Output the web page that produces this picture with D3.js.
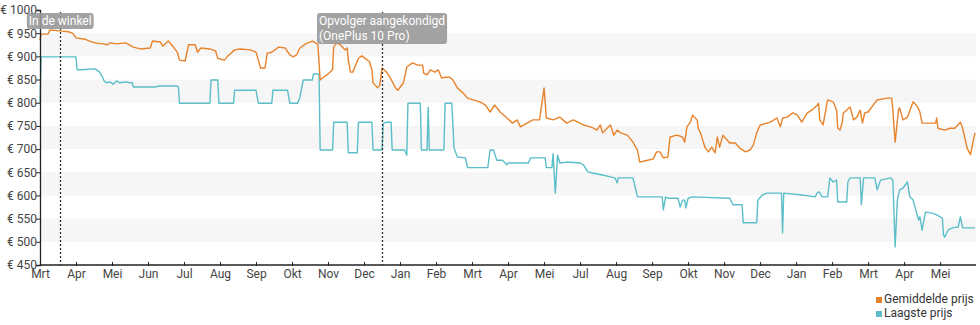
<!DOCTYPE html>
<html><head><meta charset="utf-8">
<script src="https://cdn.jsdelivr.net/npm/d3@7"></script>
<style>
html,body{margin:0;padding:0;background:#fff;}
svg{display:block;font-family:Roboto,"Noto Sans",sans-serif;}
</style></head>
<body><svg id="chart" width="980" height="325"></svg>
<script>
// Days counted from the first day of the chart (early March 2021)
const tickDays = [0,32,64,96,128,160,192,224,256,288,320,352,384,416,448,480,512,544,576,608,640,672,704,736,768,800];
const tickLabels = ["Mrt","Apr","Mei","Jun","Jul","Aug","Sep","Okt","Nov","Dec","Jan","Feb","Mrt","Apr","Mei","Jul","Aug","Sep","Okt","Nov","Dec","Jan","Feb","Mrt","Apr","Mei"];
const priceTicks = [450,500,550,600,650,700,750,800,850,900,950,1000];
const bandStarts = [500,600,700,800,900];

const avgPrice = [[0,935],[1,948],[7,948],[9,957],[18,955],[25,953],[29,950],[32,940],[40,937],[44,933],[49,929],[56,927],[60,925],[62,929],[68,927],[76,929],[83,920],[89,916],[98,918],[100,933],[107,931],[109,922],[114,933],[117,925],[122,909],[124,892],[129,890],[132,925],[138,925],[140,909],[143,918],[151,916],[156,912],[158,896],[164,892],[167,901],[173,914],[178,916],[187,914],[192,909],[194,892],[196,875],[200,875],[202,907],[206,909],[212,920],[218,918],[222,903],[225,899],[228,903],[231,918],[236,927],[242,933],[245,929],[247,925],[249,849],[252,855],[256,862],[260,871],[261,921],[264,929],[267,925],[271,914],[273,918],[274,892],[276,866],[278,866],[283,896],[286,901],[291,892],[293,888],[295,871],[296,843],[300,832],[302,838],[304,875],[308,866],[311,855],[316,832],[318,827],[323,843],[326,877],[331,886],[336,881],[340,881],[341,864],[344,860],[347,871],[351,866],[354,871],[357,853],[360,855],[364,855],[367,849],[371,832],[376,821],[380,810],[385,806],[391,802],[396,795],[400,780],[404,795],[409,780],[415,767],[420,756],[424,763],[427,748],[438,763],[444,763],[448,832],[450,767],[456,763],[462,769],[468,756],[474,763],[483,752],[489,748],[492,745],[495,741],[498,752],[500,735],[504,745],[507,752],[510,730],[513,741],[516,735],[522,730],[527,715],[531,698],[533,672],[540,676],[545,679],[548,694],[551,694],[554,681],[558,683],[560,726],[566,730],[571,726],[573,715],[575,748],[578,758],[580,773],[584,763],[585,745],[587,735],[591,704],[594,694],[597,704],[600,692],[602,726],[604,704],[607,730],[613,713],[618,713],[622,702],[627,694],[631,698],[634,709],[637,735],[640,752],[649,758],[655,767],[658,748],[660,767],[664,769],[669,778],[673,774],[677,758],[682,778],[686,784],[691,795],[692,799],[693,763],[696,752],[700,806],[705,802],[708,784],[709,745],[711,741],[713,758],[714,778],[720,791],[723,763],[726,769],[729,784],[731,756],[733,778],[736,780],[744,806],[753,810],[757,810],[758,784],[760,715],[763,784],[764,789],[767,763],[771,769],[776,802],[780,791],[782,780],[784,756],[796,756],[797,767],[798,745],[804,741],[809,745],[813,745],[818,758],[820,745],[824,702],[827,688],[829,713],[831,735]];

const lowPrice = [[0,800],[1,899],[32,899],[33,871],[36,871],[49,873],[53,866],[55,858],[57,847],[59,843],[62,845],[65,840],[68,847],[71,843],[76,845],[80,843],[82,843],[83,834],[102,834],[106,836],[122,836],[123,834],[124,799],[151,799],[152,849],[158,849],[159,799],[172,799],[173,827],[192,827],[194,799],[206,799],[207,827],[220,827],[222,799],[229,799],[231,812],[234,849],[242,849],[243,862],[248,862],[249,698],[260,698],[261,758],[273,758],[274,692],[282,692],[283,758],[295,758],[296,698],[304,698],[305,755],[308,758],[312,758],[313,698],[324,698],[326,687],[327,799],[338,799],[339,698],[344,698],[345,790],[346,698],[359,698],[360,799],[366,799],[368,702],[371,683],[378,681],[380,660],[398,660],[400,698],[403,698],[406,676],[411,676],[415,666],[416,670],[434,670],[436,681],[449,681],[450,660],[455,660],[456,690],[458,605],[460,687],[462,670],[468,672],[480,670],[483,666],[487,651],[492,648],[500,644],[507,640],[511,638],[513,627],[514,638],[527,638],[531,597],[553,597],[554,569],[556,597],[558,594],[567,594],[569,575],[571,590],[573,590],[574,573],[576,594],[580,597],[613,594],[616,580],[624,580],[625,541],[637,541],[638,590],[642,601],[646,605],[659,605],[660,519],[661,605],[677,601],[689,597],[691,607],[693,607],[695,597],[700,597],[702,638],[705,629],[708,633],[709,586],[717,586],[718,629],[720,638],[729,638],[730,580],[732,638],[742,638],[744,612],[747,633],[756,638],[758,633],[760,489],[762,590],[764,612],[767,616],[771,629],[773,597],[776,590],[780,554],[781,547],[782,554],[784,525],[787,564],[793,562],[797,558],[800,554],[802,551],[803,515],[804,510],[807,525],[811,530],[816,532],[818,554],[820,530],[831,530]];

const annotations = [{day:18, lines:["In de winkel"]},{day:304, lines:["Opvolger aangekondigd","(OnePlus 10 Pro)"]}];
const seriesNames = ["Gemiddelde prijs","Laagste prijs"];
const seriesColors = ["#e8832c","#5bbec8"];

const svg = d3.select("#chart");
const x = d3.scaleLinear().domain([0,831]).range([40,975]);
const y = d3.scaleLinear().domain([450,1000]).range([265,10]);

// bands
svg.append("g").selectAll("rect").data(bandStarts).join("rect")
  .attr("x",40).attr("width",936)
  .attr("y",d=>y(d+50)).attr("height",d=>y(d)-y(d+50))
  .attr("fill","#f6f6f6");

// lines
const line = d3.line().x(d=>x(d[0])).y(d=>y(d[1]));
[lowPrice, avgPrice].forEach((s,i)=>{
  svg.append("path").datum(s).attr("d",line).attr("fill","none")
    .attr("stroke", i===0?seriesColors[1]:seriesColors[0]).attr("stroke-width",1.4)
    .attr("stroke-linejoin","round");
});

// axes
const yAxis = d3.axisLeft(y).tickValues(priceTicks).tickSize(4).tickFormat(d=>"€ "+d);
const gy = svg.append("g").attr("transform","translate(40,0)").call(yAxis);
gy.select(".domain").attr("stroke","#222").attr("stroke-width",1.3);
gy.selectAll(".tick line").attr("stroke","#222");
gy.selectAll("text").attr("font-size",12).attr("fill","#444").attr("font-family","Roboto").attr("x",-3);

const xAxis = d3.axisBottom(x).tickValues(tickDays).tickSize(0).tickFormat((d,i)=>tickLabels[i]);
const gx = svg.append("g").attr("transform","translate(0,265)").call(xAxis);
gx.select(".domain").remove();
gx.append("line").attr("x1",40).attr("x2",976).attr("stroke","#222").attr("stroke-width",1.3);
gx.selectAll(".tick").append("line").attr("y1",-3).attr("y2",1).attr("stroke","#222");
gx.selectAll("text").attr("font-size",12).attr("fill","#444").attr("font-family","Roboto").attr("dy","0.85em").attr("y",3);

// annotations
annotations.forEach(a=>{
  const ax = Math.round(x(a.day))+0.5;
  svg.append("line").attr("x1",ax).attr("x2",ax).attr("y1",12).attr("y2",265)
    .attr("stroke","#333").attr("stroke-width",1.3).attr("stroke-dasharray","2,2");
});
annotations.forEach(a=>{
  const ax = x(a.day);
  const g = svg.append("g");
  const texts = a.lines.map((t,i)=>g.append("text").attr("font-size",12).attr("fill","#fff")
     .attr("font-family","Roboto").text(t));
  const w = d3.max(texts, t=>t.node().getComputedTextLength());
  const bx = ax - (a.lines.length>1 ? w/2 : w/2) ;
  const h = a.lines.length*15+1;
  g.insert("rect","text").attr("x",bx-2).attr("y",13).attr("width",w+4).attr("height",h)
    .attr("rx",3).attr("fill","#999").attr("fill-opacity",0.9);
  texts.forEach((t,i)=>t.attr("x",bx).attr("y",25+i*15));
});

// legend
const lg = svg.append("g").attr("transform","translate(876,0)");
seriesNames.forEach((n,i)=>{
  lg.append("rect").attr("x",0).attr("y",297+i*14).attr("width",6).attr("height",6).attr("fill",seriesColors[i]);
  lg.append("text").attr("x",8).attr("y",303+i*14).attr("font-size",12).attr("fill","#333")
    .attr("font-family","Roboto").text(n);
});
</script></body></html>
